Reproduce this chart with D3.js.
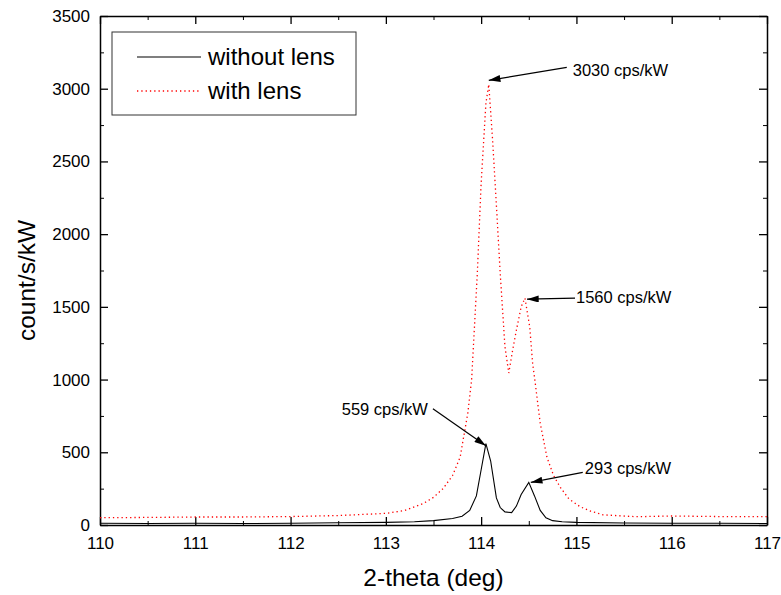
<!DOCTYPE html>
<html>
<head>
<meta charset="utf-8">
<script src="https://cdn.jsdelivr.net/npm/d3@7"></script>
<style>
  body { margin: 0; background: #fff; }
  text { font-family: Arial, "Liberation Sans", sans-serif; fill: #000; }
</style>
</head>
<body>
<div id="chart-area"></div>
<script>
// --- data ---
var thetaWithout = [110, 110.5, 111, 111.5, 112, 112.5, 113, 113.3, 113.5, 113.7, 113.8, 113.88, 113.95, 114.0, 114.05,
    114.1, 114.16, 114.2, 114.25, 114.32, 114.37, 114.42, 114.5, 114.56, 114.62, 114.68, 114.75, 114.85, 115, 115.5, 116, 116.5, 117];
var countWithout = [12, 10, 12, 10, 12, 15, 18, 22, 30, 45, 60, 100, 200, 380, 559,
    440, 186, 120, 90, 85, 130, 210, 293, 200, 100, 50, 30, 22, 18, 14, 12, 12, 10];

var thetaWith = [110, 110.5, 111, 111.5, 112, 112.5, 113, 113.2, 113.4, 113.5, 113.6, 113.7, 113.78, 113.86, 113.9, 113.96,
    114.0, 114.05, 114.08, 114.12, 114.16, 114.2, 114.25, 114.29, 114.33, 114.37, 114.42, 114.46, 114.51, 114.54, 114.57,
    114.62, 114.69, 114.76, 114.83, 114.92, 115.04, 115.15, 115.28, 115.63, 116, 116.5, 117];
var countWith = [50, 52, 55, 55, 58, 65, 80, 100, 150, 190, 250, 340, 467, 770, 997, 1732,
    2350, 2900, 3030, 2650, 2200, 1732, 1224, 1045, 1200, 1340, 1500, 1560, 1361, 1114, 963,
    700, 467, 340, 260, 180, 125, 95, 70, 57, 62, 58, 57];

var seriesNames = ["without lens", "with lens"];
var xTicks = [110, 111, 112, 113, 114, 115, 116, 117];
var yTicks = [0, 500, 1000, 1500, 2000, 2500, 3000, 3500];

var peakTheta = [114.08, 114.45, 114.05, 114.5];
var peakCount = [3030, 1560, 559, 293];
var peakLabels = ["3030 cps/kW", "1560 cps/kW", "559 cps/kW", "293 cps/kW"];

// --- layout ---
var margin = { left: 100, right: 14, top: 16, bottom: 70 };
var W = 781, H = 595;
var width = W - margin.left - margin.right,
    height = H - margin.top - margin.bottom;

var svg = d3.select("#chart-area")
    .append("svg")
        .attr("width", W)
        .attr("height", H);

var g = svg.append("g")
    .attr("transform", "translate(" + margin.left + "," + margin.top + ")");

var x = d3.scaleLinear().domain([110, 117]).range([0, width]);
var y = d3.scaleLinear().domain([0, 3500]).range([height, 0]);

var minorX = d3.range(110.5, 117, 1);
var minorY = d3.range(250, 3500, 500);

// axes, ticks pointing inward on all four sides
function styleAxis(sel) {
    sel.select(".domain").attr("stroke-width", 1.5);
    sel.selectAll(".tick line").attr("stroke-width", 1.3);
    sel.selectAll(".tick text").attr("font-size", 17).attr("font-family", "Arial, 'Liberation Sans', sans-serif");
}

var xAxis = g.append("g")
    .attr("transform", "translate(0," + height + ")")
    .call(d3.axisBottom(x).tickValues(xTicks).tickSizeInner(-8).tickSizeOuter(0).tickPadding(12).tickFormat(d3.format("d")))
    .call(styleAxis);

g.append("g")
    .attr("transform", "translate(0," + height + ")")
    .call(d3.axisBottom(x).tickValues(minorX).tickSize(-4).tickFormat(""))
    .call(g => g.select(".domain").remove());

g.append("g")
    .call(d3.axisTop(x).tickValues(xTicks).tickSizeInner(-8).tickSizeOuter(0).tickFormat(""))
    .call(styleAxis);
g.append("g")
    .call(d3.axisTop(x).tickValues(minorX).tickSize(-4).tickFormat(""))
    .call(g => g.select(".domain").remove());

g.append("g")
    .call(d3.axisLeft(y).tickValues(yTicks).tickSizeInner(-8).tickSizeOuter(0).tickPadding(10).tickFormat(d3.format("d")))
    .call(styleAxis);
g.append("g")
    .call(d3.axisLeft(y).tickValues(minorY).tickSize(-4).tickFormat(""))
    .call(g => g.select(".domain").remove());

g.append("g")
    .attr("transform", "translate(" + width + ",0)")
    .call(d3.axisRight(y).tickValues(yTicks).tickSizeInner(-8).tickSizeOuter(0).tickFormat(""))
    .call(styleAxis);
g.append("g")
    .attr("transform", "translate(" + width + ",0)")
    .call(d3.axisRight(y).tickValues(minorY).tickSize(-4).tickFormat(""))
    .call(g => g.select(".domain").remove());

// axis titles
g.append("text")
    .attr("x", width / 2)
    .attr("y", height + 61)
    .attr("text-anchor", "middle")
    .attr("font-size", 24.5)
    .text("2-theta (deg)");

g.append("text")
    .attr("transform", "translate(" + (-65) + "," + (height / 2 + 10) + ") rotate(-90)")
    .attr("text-anchor", "middle")
    .attr("font-size", 24.5)
    .text("count/s/kW");

// curves
var line = d3.line()
    .x(d => x(d[0]))
    .y(d => y(d[1]));

var withData = thetaWith.map((t, i) => [t, countWith[i]]);
var withoutData = thetaWithout.map((t, i) => [t, countWithout[i]]);

g.append("path")
    .datum(withData)
    .attr("fill", "none")
    .attr("stroke", "#ff0000")
    .attr("stroke-width", 1.3)
    .attr("stroke-dasharray", "1.3,3")
    .attr("d", line);

g.append("path")
    .datum(withoutData)
    .attr("fill", "none")
    .attr("stroke", "#000")
    .attr("stroke-width", 1.1)
    .attr("d", line);

// annotations
svg.append("defs").append("marker")
    .attr("id", "head")
    .attr("viewBox", "0 0 10 6")
    .attr("refX", 10).attr("refY", 3)
    .attr("markerWidth", 12).attr("markerHeight", 7)
    .attr("markerUnits", "userSpaceOnUse")
    .attr("orient", "auto")
  .append("path")
    .attr("d", "M0,0 L10,3 L0,6 Z")
    .attr("fill", "#000");

// tip offset, tail offset, text offset, anchor (pixels from the peak)
var annoLayout = [
    { tip: [0, -4], tail: [78, -17], txt: [84, -14], anchor: "start" },
    { tip: [3, 1], tail: [51, 0], txt: [52, -1], anchor: "start" },
    { tip: [0, 2], tail: [-53, -35], txt: [-58, -34], anchor: "end" },
    { tip: [2, 0], tail: [54, -10], txt: [56, -14], anchor: "start" }
];

peakLabels.forEach(function(lbl, i) {
    var px = x(peakTheta[i]), py = y(peakCount[i]);
    var L = annoLayout[i];
    g.append("line")
        .attr("x1", px + L.tail[0]).attr("y1", py + L.tail[1])
        .attr("x2", px + L.tip[0]).attr("y2", py + L.tip[1])
        .attr("stroke", "#000")
        .attr("stroke-width", 1.2)
        .attr("marker-end", "url(#head)");
    g.append("text")
        .attr("x", px + L.txt[0]).attr("y", py + L.txt[1])
        .attr("dy", "0.35em")
        .attr("text-anchor", L.anchor)
        .attr("font-size", 16.5)
        .text(lbl);
});

// legend
var legend = svg.append("g");
legend.append("rect")
    .attr("x", 112).attr("y", 32)
    .attr("width", 244).attr("height", 83)
    .attr("fill", "#fff")
    .attr("stroke", "#333")
    .attr("stroke-width", 1);

var legStyles = [
    { stroke: "#000", dash: null, w: 1.1 },
    { stroke: "#ff0000", dash: "1.3,3", w: 1.3 }
];
seriesNames.forEach(function(name, i) {
    var ly = 57 + i * 34;
    legend.append("line")
        .attr("x1", 137).attr("x2", 201)
        .attr("y1", ly).attr("y2", ly)
        .attr("stroke", legStyles[i].stroke)
        .attr("stroke-width", legStyles[i].w)
        .attr("stroke-dasharray", legStyles[i].dash);
    legend.append("text")
        .attr("x", 208).attr("y", ly + 8)
        .attr("font-size", 24)
        .text(name);
});
</script>
</body>
</html>
